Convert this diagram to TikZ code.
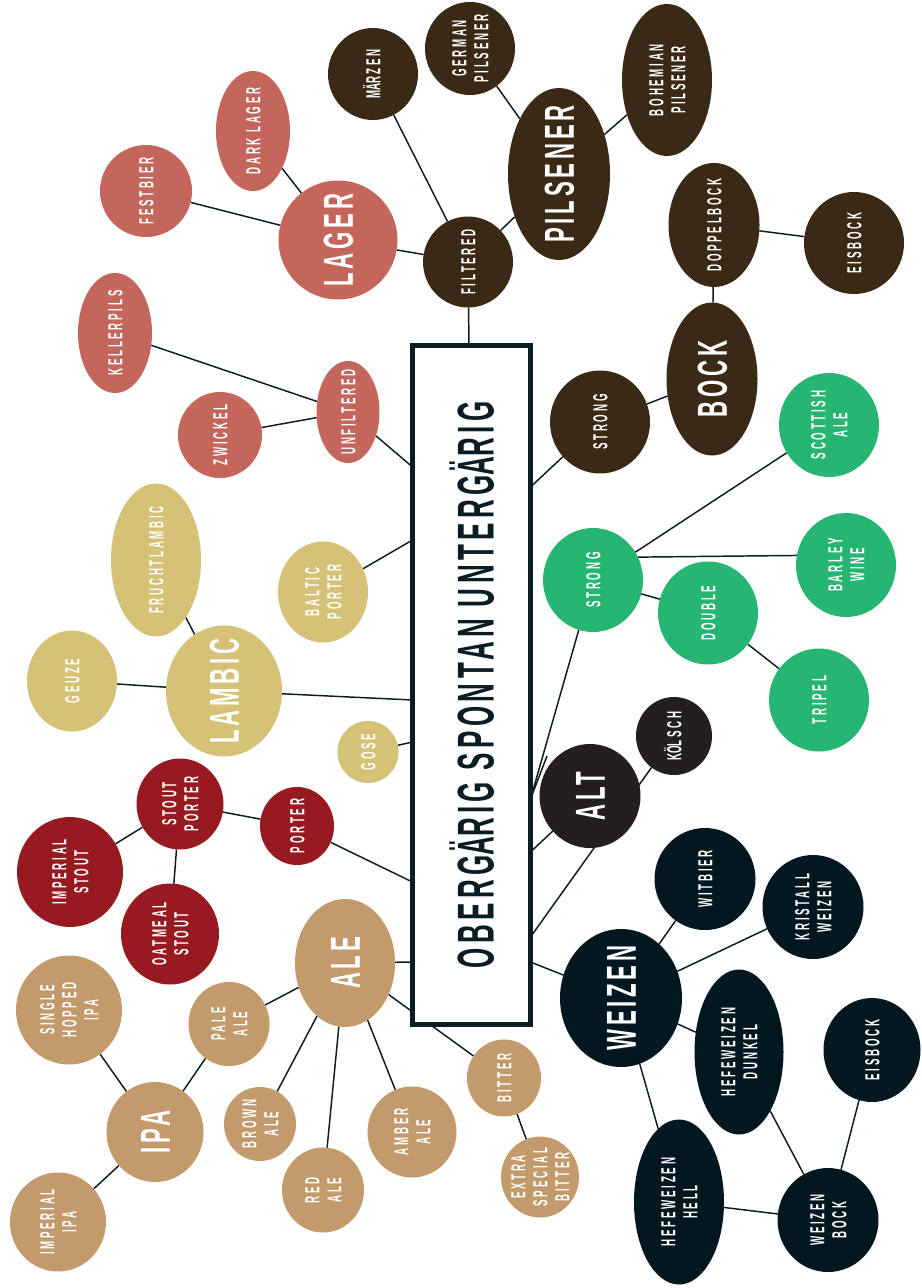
\documentclass[tikz,border=0pt]{standalone}
\usepackage{fontspec}
\usepackage{graphicx}
\usetikzlibrary{shapes.geometric}
\setmainfont{Liberation Sans}
\newfontfamily\smf{Liberation Sans}[LetterSpace=28]
\newfontfamily\bgf{Liberation Sans}[LetterSpace=17]
\newfontfamily\ttlf{Liberation Sans}[LetterSpace=17]
\definecolor{cSal}{HTML}{C4665B}
\definecolor{cBrn}{HTML}{3A2915}
\definecolor{cGld}{HTML}{D5C277}
\definecolor{cRed}{HTML}{971A20}
\definecolor{cTan}{HTML}{C39A6C}
\definecolor{cGrn}{HTML}{27B574}
\definecolor{cChr}{HTML}{231F20}
\definecolor{cNav}{HTML}{02171F}
\definecolor{cLine}{HTML}{0A1C24}
\newcommand\smlbl[1]{\rotatebox{90}{\scalebox{0.48}[1]{\smf\bfseries\fontsize{15.2}{16.5}\selectfont\begin{tabular}{@{}c@{}}#1\end{tabular}}}}
\newcommand\bglbl[1]{\rotatebox{90}{\scalebox{0.53}[1]{\bgf\bfseries\fontsize{31.4}{36}\selectfont\begin{tabular}{@{}c@{}}#1\end{tabular}}}}
\newcommand\ttllbl{\rotatebox{90}{\scalebox{0.502}[1]{\ttlf\bfseries\fontsize{38.8}{44}\selectfont\begin{tabular}{@{}c@{}}OBERG\smash{Ä}RIG SPONTAN UNTERG\smash{Ä}RIG\end{tabular}}}}
\pgfdeclarelayer{bg}
\pgfsetlayers{bg,main}
\begin{document}
\begin{tikzpicture}[x=0.75pt,y=-0.75pt,
  bub/.style={ellipse, fill=#1, draw=none, inner sep=0pt, outer sep=0pt},
  sz/.style 2 args={minimum width=#1*0.75pt, minimum height=#2*0.75pt},
  sl/.style={label={[xshift=2.14pt]center:\smlbl{#1}}},
  bl/.style={label={[xshift=4.04pt]center:\bglbl{#1}}},
  every label/.style={text=white, inner sep=0pt},
  conn/.style={draw=cLine, line width=1.1pt}]
\useasboundingbox (0,0) rectangle (921,1288);
% central box
\node[rectangle, draw=cLine, line width=3.75pt, fill=white, inner sep=0pt,
  minimum width=118*0.75pt, minimum height=679*0.75pt,
  label={[xshift=7.7pt,text=cLine]center:\ttllbl}] (box) at (471.5,685) {};
% lager family
\node[bub=cSal, sz={119}{119}, bl={LAGER}] (lager) at (338,240) {};
\node[bub=cSal, sz={74}{120}, sl={DARK LAGER}] (darklager) at (253,131) {};
\node[bub=cSal, sz={92}{92}, sl={FESTBIER}] (festbier) at (146,191) {};
\node[bub=cSal, sz={74}{120}, sl={KELLERPILS}] (kellerpils) at (115,333) {};
\node[bub=cSal, sz={63}{102}, sl={UNFILTERED}] (unfiltered) at (348,412) {};
\node[bub=cSal, sz={84}{86}, sl={ZWICKEL}] (zwickel) at (220,435) {};
% brown family
\node[bub=cBrn, sz={90}{92}, sl={M\smash{Ä}RZEN}] (maerzen) at (373,74) {};
\node[bub=cBrn, sz={90}{93}, sl={GERMAN\\PILSENER}] (gpils) at (470,48.5) {};
\node[bub=cBrn, sz={102}{172}, bl={PILSENER}] (pilsener) at (559,174) {};
\node[bub=cBrn, sz={90}{152}, sl={BOHEMIAN\\PILSENER}] (bpils) at (667,80) {};
\node[bub=cBrn, sz={90}{91}, sl={FILTERED}] (filtered) at (468,262) {};
\node[bub=cBrn, sz={91}{124}, sl={DOPPELBOCK}] (doppelbock) at (714,225) {};
\node[bub=cBrn, sz={100}{102}, sl={EISBOCK}] (eisbockA) at (854,243) {};
\node[bub=cBrn, sz={91}{153}, bl={BOCK}] (bock) at (712,379) {};
\node[bub=cBrn, sz={100}{103}, sl={STRONG}] (strongA) at (600,422) {};
% lambic family
\node[bub=cGld, sz={90}{153}, sl={FRUCHTLAMBIC}] (frucht) at (156,560) {};
\node[bub=cGld, sz={90}{101}, sl={GEUZE}] (geuze) at (72,681) {};
\node[bub=cGld, sz={116}{131}, bl={LAMBIC}] (lambic) at (224,691) {};
\node[bub=cGld, sz={90}{101}, sl={BALTIC\\PORTER}] (baltic) at (323,592) {};
\node[bub=cGld, sz={61}{62}, sl={GOSE}] (gose) at (368,752) {};
% porter family
\node[bub=cRed, sz={87}{91}, sl={STOUT\\PORTER}] (stoutporter) at (180,804) {};
\node[bub=cRed, sz={74}{78}, sl={PORTER}] (porter) at (297,826) {};
\node[bub=cRed, sz={106}{110}, sl={IMPERIAL\\STOUT}] (impstout) at (70,872) {};
\node[bub=cRed, sz={98}{101}, sl={OATMEAL\\STOUT}] (oatmeal) at (170,934) {};
% ale family
\node[bub=cTan, sz={100}{128}, bl={ALE}] (ale) at (345,963) {};
\node[bub=cTan, sz={81}{84}, sl={PALE\\ALE}] (paleale) at (229,1024) {};
\node[bub=cTan, sz={97}{100}, bl={IPA}] (ipa) at (155,1132) {};
\node[bub=cTan, sz={106}{109}, sl={SINGLE\\HOPPED\\IPA}] (single) at (69,1010) {};
\node[bub=cTan, sz={72}{74}, sl={BROWN\\ALE}] (brownale) at (260,1124) {};
\node[bub=cTan, sz={89}{91}, sl={AMBER\\ALE}] (amberale) at (412,1132) {};
\node[bub=cTan, sz={82}{85}, sl={RED\\ALE}] (redale) at (323,1190) {};
\node[bub=cTan, sz={96}{99}, sl={IMPERIAL\\IPA}] (impipa) at (58,1222) {};
\node[bub=cTan, sz={74}{77}, sl={BITTER}] (bitter) at (504,1078) {};
\node[bub=cTan, sz={78}{81}, sl={EXTRA\\SPECIAL\\BITTER}] (esb) at (540,1177) {};
% strong ale family
\node[bub=cGrn, sz={100}{104}, sl={STRONG}] (strongB) at (593,580) {};
\node[bub=cGrn, sz={100}{104}, sl={SCOTTISH\\ALE}] (scottish) at (829,425) {};
\node[bub=cGrn, sz={100}{104}, sl={BARLEY\\WINE}] (barley) at (846,565) {};
\node[bub=cGrn, sz={100}{103}, sl={DOUBLE}] (double) at (708,613) {};
\node[bub=cGrn, sz={100}{103}, sl={TRIPEL}] (tripel) at (819,700) {};
% alt family
\node[bub=cChr, sz={101}{104}, bl={ALT}] (alt) at (590,796) {};
\node[bub=cChr, sz={76}{78}, sl={K\smash{Ö}LSCH}] (koelsch) at (674,736) {};
% weizen family
\node[bub=cNav, sz={122}{138}, bl={WEIZEN}] (weizen) at (621,998) {};
\node[bub=cNav, sz={101}{102}, sl={WITBIER}] (witbier) at (705,879) {};
\node[bub=cNav, sz={101}{104}, sl={KRISTALL\\WEIZEN}] (kristall) at (813,907) {};
\node[bub=cNav, sz={89}{165}, sl={HEFEWEIZEN\\DUNKEL}] (hwdunkel) at (739,1052) {};
\node[bub=cNav, sz={97}{104}, sl={EISBOCK}] (eisbockB) at (872,1050) {};
\node[bub=cNav, sz={90}{165}, sl={HEFEWEIZEN\\HELL}] (hwhell) at (679,1202) {};
\node[bub=cNav, sz={101}{104}, sl={WEIZEN\\BOCK}] (weizenbock) at (828,1220) {};
% connection points on the box
\coordinate (cF) at (469,345.5);
\coordinate (bU) at (412.5,467);
\coordinate (bB) at (412.5,540);
\coordinate (bL) at (412.5,700);
\coordinate (bG) at (412.5,742);
\coordinate (bP) at (412.5,882);
\coordinate (bA) at (412.5,962);
\coordinate (bS1) at (530.5,487);
\coordinate (bS2) at (530.5,799);
\coordinate (bAl) at (530.5,852);
\coordinate (bK) at (530.5,937);
\coordinate (bW) at (530.5,962);
\coordinate (xend) at (547,756);
\begin{pgfonlayer}{bg}
\fill[white] (0,0) rectangle (921,1288);
\draw[conn] (filtered) -- (maerzen);
\draw[conn] (filtered) -- (lager);
\draw[conn] (filtered) -- (pilsener);
\draw[conn] (filtered) -- (cF);
\draw[conn] (pilsener) -- (gpils);
\draw[conn] (pilsener) -- (bpils);
\draw[conn] (lager) -- (darklager);
\draw[conn] (lager) -- (festbier);
\draw[conn] (unfiltered) -- (kellerpils);
\draw[conn] (unfiltered) -- (zwickel);
\draw[conn] (unfiltered) -- (bU);
\draw[conn] (doppelbock) -- (eisbockA);
\draw[conn] (doppelbock) -- (bock);
\draw[conn] (bock) -- (strongA);
\draw[conn] (strongA) -- (bS1);
\draw[conn] (strongB) -- (scottish);
\draw[conn] (strongB.27) -- (barley.169);
\draw[conn] (strongB) -- (double);
\draw[conn] (double) -- (tripel);
\draw[conn] (strongB) -- (bS2);
\draw[conn] (bS2) -- (xend);
\draw[conn] (alt) -- (bAl);
\draw[conn] (koelsch) -- (bK);
\draw[conn] (weizen) -- (bW);
\draw[conn] (weizen) -- (witbier);
\draw[conn] (weizen) -- (kristall);
\draw[conn] (weizen) -- (hwdunkel);
\draw[conn] (weizen) -- (hwhell);
\draw[conn] (hwdunkel) -- (weizenbock);
\draw[conn] (hwhell) -- (weizenbock);
\draw[conn] (eisbockB) -- (weizenbock);
\draw[conn] (lambic) -- (frucht);
\draw[conn] (lambic) -- (geuze);
\draw[conn] (lambic) -- (bL);
\draw[conn] (baltic) -- (bB);
\draw[conn] (gose) -- (bG);
\draw[conn] (stoutporter) -- (porter);
\draw[conn] (stoutporter) -- (impstout);
\draw[conn] (stoutporter) -- (oatmeal);
\draw[conn] (porter) -- (bP);
\draw[conn] (ale) -- (bA);
\draw[conn] (ale) -- (paleale);
\draw[conn] (ale) -- (brownale);
\draw[conn] (ale) -- (redale);
\draw[conn] (ale) -- (amberale);
\draw[conn] (ale) -- (bitter);
\draw[conn] (bitter) -- (esb);
\draw[conn] (paleale) -- (ipa);
\draw[conn] (ipa) -- (single);
\draw[conn] (ipa) -- (impipa);
\end{pgfonlayer}
\end{tikzpicture}
\end{document}
